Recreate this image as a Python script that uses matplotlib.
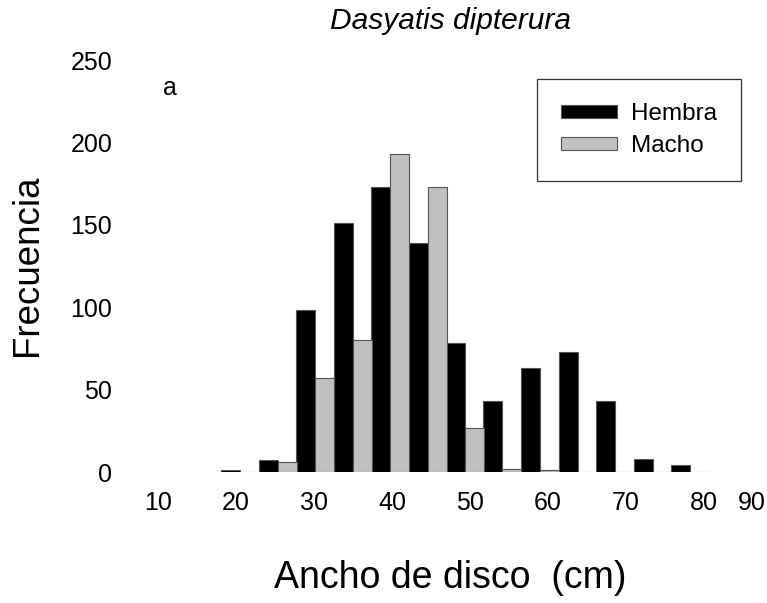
import matplotlib
matplotlib.use("Agg")
import matplotlib.pyplot as plt
from matplotlib.patches import Patch
from matplotlib.transforms import ScaledTranslation

plt.rcParams['font.family'] = ['Liberation Sans', 'DejaVu Sans']

# Disc-width classes (cm) and counts per sex
bin_centers = [20.5, 25.4, 30.1, 35.0, 39.7, 44.6, 49.4, 54.1, 59.0, 63.8, 68.6, 73.5, 78.2]
hembra = [1, 7, 98, 151, 173, 139, 78, 43, 63, 73, 43, 8, 4]
macho = [0, 6, 57, 80, 193, 173, 27, 2, 1, 0, 0, 0, 0]

x_ticks = [10, 20, 30, 40, 50, 60, 70, 80, 90]
y_ticks = [0, 50, 100, 150, 200, 250]

W, H = 767, 603
fig = plt.figure(figsize=(W / 100, H / 100), dpi=100)
ax_left, ax_right, ax_bottom, ax_top = 158, 782, 472, 60
ax = fig.add_axes([ax_left / W, 1 - ax_bottom / H,
                   (ax_right - ax_left) / W, (ax_bottom - ax_top) / H])

bw = 2.45
ax.bar([c - bw / 2 for c in bin_centers], hembra, width=bw,
       color='black', edgecolor='#555555', linewidth=0.8, label='Hembra')
ax.bar([c + bw / 2 for c in bin_centers], macho, width=bw,
       color='#c0c0c0', edgecolor='#555555', linewidth=0.8, label='Macho')

ax.set_xlim(10, 90)
ax.set_ylim(0, 250)
ax.set_xticks(x_ticks)
ax.set_yticks(y_ticks)
ax.tick_params(axis='both', length=0, labelsize=18)
ax.tick_params(axis='x', pad=14)
ax.tick_params(axis='y', pad=33)
for s in ax.spines.values():
    s.set_visible(False)

# keep the right-most tick label inside the canvas
last = ax.xaxis.get_major_ticks()[-1].label1
last.set_transform(last.get_transform() +
                   ScaledTranslation(-0.30, 0, fig.dpi_scale_trans))

ax.set_xlabel('Ancho de disco  (cm)', fontsize=27)
ax.xaxis.set_label_coords((450 - ax_left) / (ax_right - ax_left),
                          (ax_bottom - 578) / (ax_bottom - ax_top))
ax.xaxis.label.set_verticalalignment('center')
ax.set_ylabel('Frecuencia', fontsize=26.5)
ax.yaxis.set_label_coords((28 - ax_left) / (ax_right - ax_left),
                          (ax_bottom - 265) / (ax_bottom - ax_top))
ax.yaxis.label.set_verticalalignment('center')

fig.text(450 / W, 1 - 21 / H, 'Dasyatis dipterura', fontsize=21.5,
         style='italic', ha='center', va='center')
fig.text(170 / W, 1 - 88 / H, 'a', fontsize=18, ha='center', va='center')

handles = [Patch(facecolor='black', edgecolor='#555555', linewidth=0.8),
           Patch(facecolor='#c0c0c0', edgecolor='#555555', linewidth=0.8)]
leg = ax.legend(handles, ['Hembra', 'Macho'], loc='upper right',
                bbox_to_anchor=(741 / W, 1 - 79 / H),
                bbox_transform=fig.transFigure, fontsize=17.5,
                frameon=True, fancybox=False, edgecolor='black',
                handlelength=2.3, handleheight=0.45, handletextpad=0.55,
                labelspacing=0.4, borderpad=1.0, borderaxespad=0)
leg.get_frame().set_linewidth(0.9)

fig.savefig('out.png', dpi=100)
